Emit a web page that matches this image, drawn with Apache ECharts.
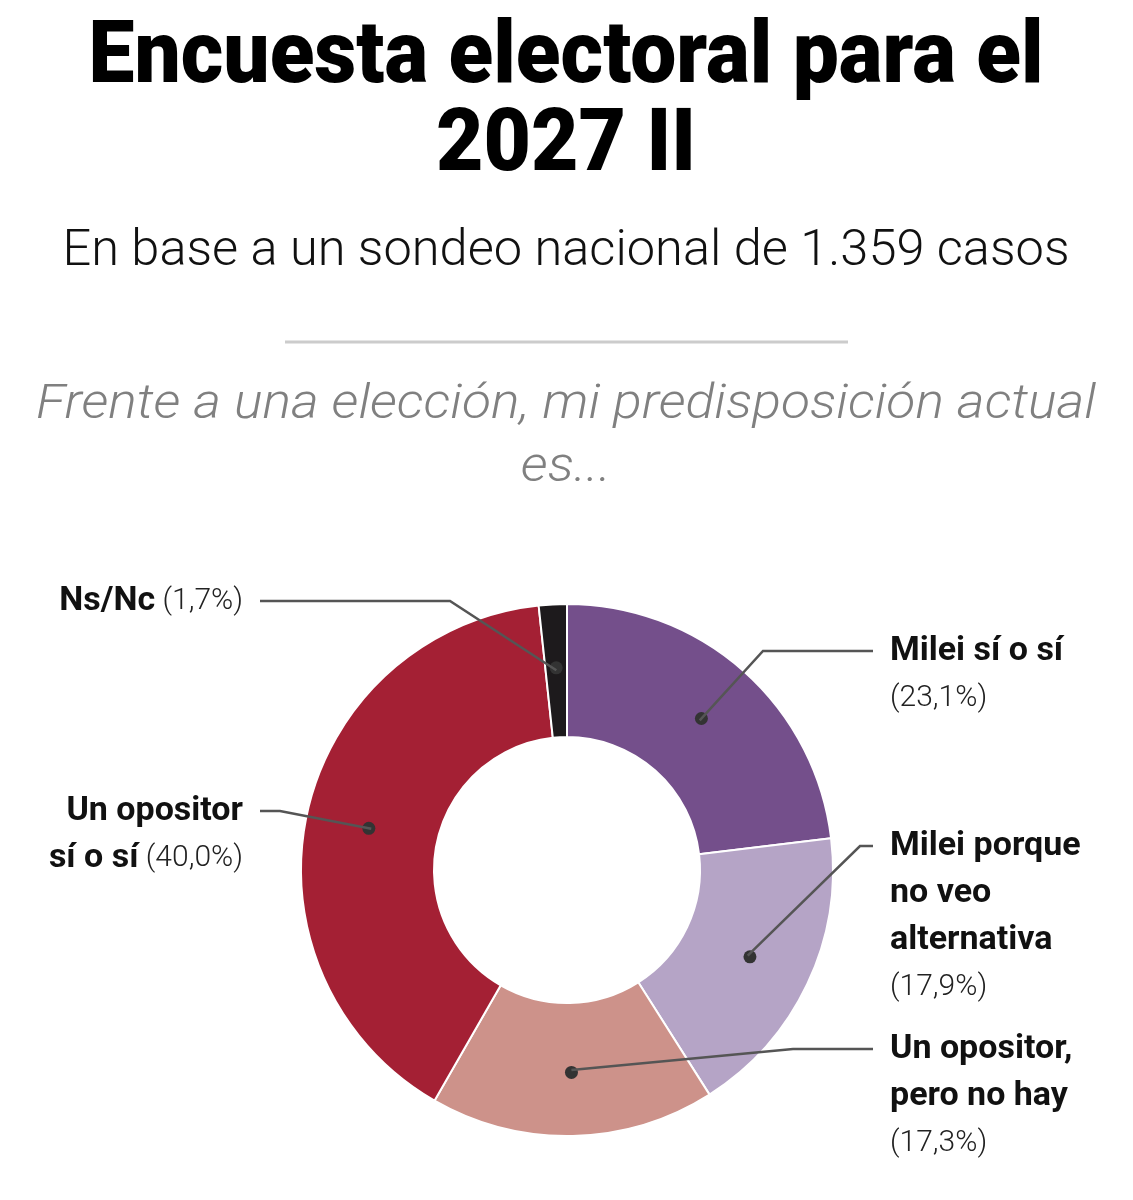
<!DOCTYPE html>
<html>
<head>
<meta charset="utf-8">
<script src="https://cdn.jsdelivr.net/npm/echarts@6/dist/echarts.min.js"></script>
<style>
  html, body { margin: 0; padding: 0; background: #fff; }
  #chart { width: 1133px; height: 1200px; }
</style>
</head>
<body>
<div id="chart"></div>
<script>
// data
var categories = ['Milei sí o sí', 'Milei porque no veo alternativa', 'Un opositor, pero no hay', 'Un opositor sí o sí', 'Ns/Nc'];
var values = [23.1, 17.9, 17.3, 40.0, 1.7];
var colors = ['#744f8b', '#b5a4c6', '#cd928a', '#a42034', '#1d1a1c'];

// how each label wraps, and whether the % sits on the last name line
var labelRows = [['Milei sí o sí'], ['Milei porque', 'no veo', 'alternativa'], ['Un opositor,', 'pero no hay'], ['Un opositor', 'sí o sí'], ['Ns/Nc']];
var pctInline = [false, false, false, true, true];

// label placement (x = text edge, y = first line centre), len2 = horizontal leader
var labelPlace = [
  { x: 890, y: 651, align: 'left', len2: 110 },
  { x: 890, y: 846, align: 'left', len2: 13 },
  { x: 890, y: 1049, align: 'left', len2: 80 },
  { x: 243, y: 811, align: 'right', len2: 20 },
  { x: 243, y: 601, align: 'right', len2: 190 }
];

var LINE_H = 47;
var CENTER = [567, 870];

function pct(v) {
  return '(' + v.toFixed(1).replace('.', ',') + '%)';
}

// squeeze a text line to a target width
var measureCtx = document.createElement('canvas').getContext('2d');
function fitScale(text, font, width) {
  measureCtx.font = font;
  return width / measureCtx.measureText(text).width;
}

var titleFont = '900 88px Roboto';
var subFont = '300 50px Roboto';
var qFont = 'italic 300 48px Roboto';
var titleScale = fitScale('Encuesta electoral para el', titleFont, 955);
var subScale = fitScale('En base a un sondeo nacional de 1.359 casos', subFont, 1007);
var qScale = fitScale('Frente a una elección, mi predisposición actual', qFont, 1060);

var ringData = categories.map(function (name, i) {
  return { name: name, value: values[i], itemStyle: { color: colors[i] } };
});
var labelData = categories.map(function (name, i) {
  return { name: name, value: values[i] };
});

var chart = echarts.init(document.getElementById('chart'), null, { renderer: 'canvas' });
chart.setOption({
  backgroundColor: '#ffffff',
  animation: false,
  graphic: [
    {
      type: 'text', x: 566, y: 60, scaleX: titleScale,
      style: { text: 'Encuesta electoral para el', font: titleFont, fill: '#000', textAlign: 'center', textVerticalAlign: 'middle' }
    },
    {
      type: 'text', x: 566, y: 148, scaleX: titleScale,
      style: { text: '2027 II', font: titleFont, fill: '#000', textAlign: 'center', textVerticalAlign: 'middle' }
    },
    {
      type: 'text', x: 566, y: 252, scaleX: subScale,
      style: { text: 'En base a un sondeo nacional de 1.359 casos', font: subFont, fill: '#111', textAlign: 'center', textVerticalAlign: 'middle' }
    },
    {
      type: 'line',
      shape: { x1: 285, y1: 342, x2: 848, y2: 342 },
      style: { stroke: '#cccccc', lineWidth: 3 }
    },
    {
      type: 'text', x: 566, y: 406, scaleX: qScale,
      style: { text: 'Frente a una elección, mi predisposición actual', font: qFont, fill: '#808080', textAlign: 'center', textVerticalAlign: 'middle' }
    },
    {
      type: 'text', x: 566, y: 469, scaleX: qScale,
      style: { text: 'es...', font: qFont, fill: '#808080', textAlign: 'center', textVerticalAlign: 'middle' }
    }
  ],
  series: [
    {
      // the donut, with a dot in the middle of each ring slice
      type: 'pie',
      z: 2,
      silent: true,
      center: CENTER,
      radius: [133, 266],
      startAngle: 90,
      clockwise: true,
      avoidLabelOverlap: false,
      itemStyle: { borderColor: '#ffffff', borderWidth: 2 },
      label: {
        show: true,
        position: 'inside',
        formatter: '{d| }',
        textBorderWidth: 0,
        rich: {
          d: { width: 13, height: 13, borderRadius: 6.5, backgroundColor: '#333333' }
        }
      },
      labelLine: { show: false },
      data: ringData
    },
    {
      // invisible pie whose edge sits on the dots; carries the labels and leaders
      type: 'pie',
      z: 3,
      silent: true,
      center: CENTER,
      radius: [0, 200],
      startAngle: 90,
      clockwise: true,
      itemStyle: { color: 'rgba(0,0,0,0)', borderWidth: 0 },
      label: {
        show: true,
        position: 'outside',
        textBorderWidth: 0,
        formatter: function (p) {
          var i = p.dataIndex;
          var rows = labelRows[i].map(function (r) { return '{b|' + r + '}'; });
          if (pctInline[i]) {
            rows[rows.length - 1] += '{p| ' + pct(p.value) + '}';
          } else {
            rows.push('{p|' + pct(p.value) + '}');
          }
          return rows.join('\n');
        },
        rich: {
          b: { fontFamily: 'Roboto', fontWeight: 'bold', fontSize: 34, lineHeight: LINE_H, color: '#111111' },
          p: { fontFamily: 'Roboto', fontWeight: 300, fontSize: 30, lineHeight: LINE_H, color: '#222222' }
        }
      },
      labelLine: {
        show: true,
        length: 15,
        length2: 10,
        lineStyle: { color: '#555555', width: 2.5 }
      },
      labelLayout: function (params) {
        var cfg = labelPlace[params.dataIndex];
        var anchor = params.labelLinePoints[0];
        var dir = cfg.align === 'left' ? -1 : 1;
        var endX = cfg.x + dir * 17;
        var elbowX = endX + dir * cfg.len2;
        return {
          x: cfg.x,
          y: cfg.y - LINE_H / 2,
          align: cfg.align,
          verticalAlign: 'top',
          labelLinePoints: [[anchor[0], anchor[1]], [elbowX, cfg.y], [endX, cfg.y]]
        };
      },
      data: labelData
    }
  ]
});
</script>
</body>
</html>
